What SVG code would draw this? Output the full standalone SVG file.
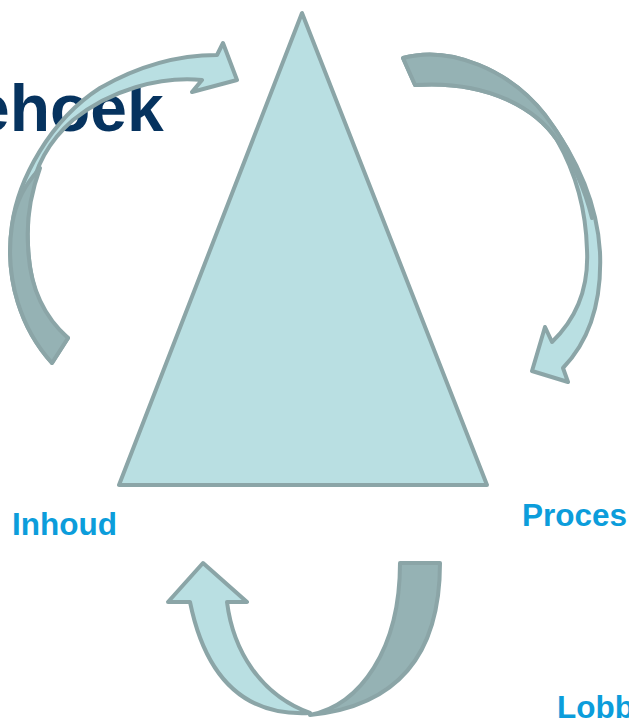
<svg xmlns="http://www.w3.org/2000/svg" width="629" height="718" viewBox="0 0 629 718">
<style>
.tri{fill:#B9DFE2;stroke:#8BA5A7;stroke-width:4;stroke-linejoin:round}
.light{fill:#B9DFE2;stroke:#8BA5A7;stroke-width:4;stroke-linejoin:round}
.dark{fill:#95B2B4;stroke:#8BA5A7;stroke-width:4;stroke-linejoin:round}
.title{font-family:"Liberation Sans",Arial,sans-serif;font-weight:bold;font-size:66px;fill:#06335F}
.lbl{font-family:"Liberation Sans",Arial,sans-serif;font-weight:bold;font-size:31.5px;fill:#0C9DDB}
</style>
<rect width="629" height="718" fill="#FFFFFF"/>
<g id="title"><text class="title" x="-27" y="131">ehoek</text></g>
<g id="triangle"><polygon class="tri" points="302,13 119,485 487,485"/></g>
<g id="label-inhoud"><text class="lbl" x="12" y="535">Inhoud</text></g>
<g id="label-proces"><text class="lbl" x="522" y="526">Proces</text></g>
<g id="label-lobby"><text class="lbl" x="557" y="718">Lobby</text></g>
<g id="connectors">
<g id="arrow-left">
<path class="light" d="M52,363 C22,330 4,280 12,225 C18,180 50,120 100,88 C140,65 180,55 217,55 L223,43 L237,80 L192,92 L202,80 C160,76 110,90 73,120 C50,140 35,165 30,197 C25,240 28,285 47,317 C55,328 62,334 68,338 Z"/>
<path class="dark" d="M52,363 C22,330 4,280 12,225 C16,200 25,185 40,168 C32,190 26,215 28,245 C29,285 42,315 68,338 Z"/>
</g>
<g id="arrow-right">
<path class="light" d="M403,58 C450,45 510,70 545,115 C575,155 597,200 600,252 C602,300 590,340 563,368 L568,382 L532,371 L545,327 L552,342 C575,320 589,290 587,250 C586,210 577,175 557,140 C537,110 490,80 415,85 Z"/>
<path class="dark" d="M403,58 C450,45 510,70 545,115 C570,148 585,180 592,218 C585,190 575,165 557,140 C537,110 490,80 415,85 Z"/>
</g>
<g id="arrow-bottom">
<path class="light" d="M190,602 L168,602 L203,563 L247,602 L227,602 C233,650 260,695 310,713 C255,716 208,690 190,602 Z"/>
<path class="dark" d="M400,563 L440,563 C440,640 410,705 310,715 C360,705 400,650 400,563 Z"/>
</g>
</g>
</svg>
